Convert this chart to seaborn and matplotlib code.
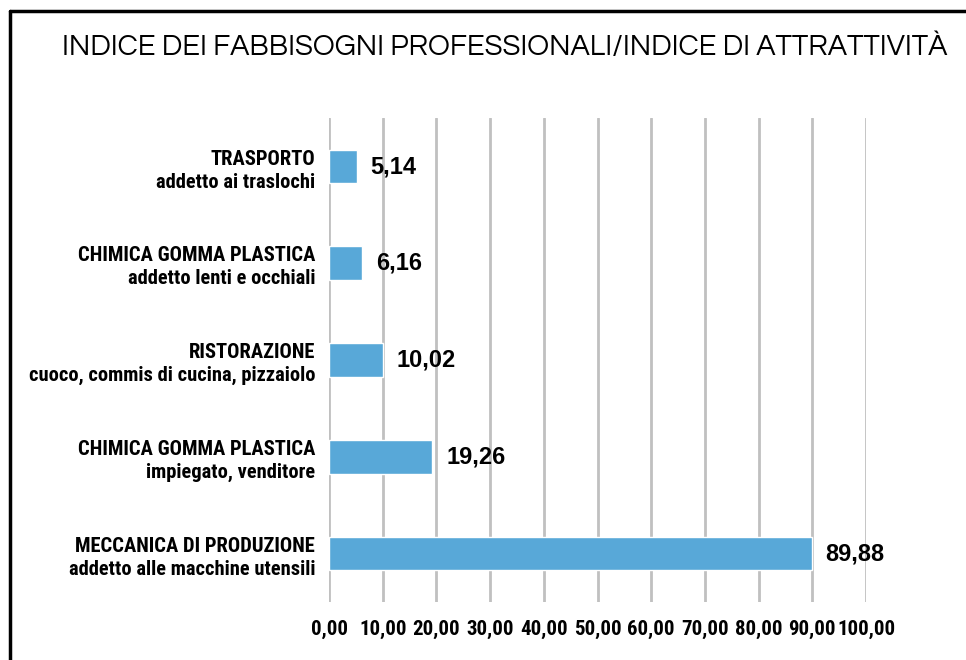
import pandas as pd
import matplotlib.pyplot as plt
import seaborn as sns
from matplotlib.ticker import FuncFormatter, MultipleLocator
from matplotlib.lines import Line2D

# Data
settori = ['TRASPORTO', 'CHIMICA GOMMA PLASTICA', 'RISTORAZIONE',
           'CHIMICA GOMMA PLASTICA', 'MECCANICA DI PRODUZIONE']
profili = ['addetto ai traslochi', 'addetto lenti e occhiali',
           'cuoco, commis di cucina, pizzaiolo', 'impiegato, venditore',
           'addetto alle macchine utensili']
valori = [5.14, 6.16, 10.02, 19.26, 89.88]

etichette = [f'{s}\n{p}' for s, p in zip(settori, profili)]
data = pd.DataFrame({'label': etichette, 'valore': valori})

sns.set_style('white')
plt.rcParams['font.family'] = ['Roboto Condensed', 'DejaVu Sans']

fig = plt.figure(figsize=(9.66, 6.6), dpi=100)
ax = fig.add_axes([0.3406, 0.088, 0.5559, 0.733])

sns.barplot(data=data, x='valore', y='label', orient='h', color='#58a8d8',
            saturation=1, width=0.35, ax=ax, zorder=3)

ax.set_xlim(0, 100)
ax.set_ylim(4.5, -0.5)
ax.xaxis.set_major_locator(MultipleLocator(10))
ax.xaxis.set_major_formatter(FuncFormatter(lambda v, p: f'{v:.2f}'.replace('.', ',')))
ax.grid(axis='x', color='#c0c0c0', linewidth=2, zorder=0)
ax.grid(axis='y', visible=False)
for s in ax.spines.values():
    s.set_visible(False)
ax.tick_params(axis='x', length=0, pad=13, labelsize=15, labelcolor='black')
ax.tick_params(axis='y', length=0, pad=10, labelsize=14.8, labelcolor='black')
for t in ax.get_xticklabels() + ax.get_yticklabels():
    t.set_fontweight('bold')
for t in ax.get_yticklabels():
    t.set_multialignment('right')
    t.set_linespacing(1.28)
ax.set_xlabel('')
ax.set_ylabel('')

# Value labels
for i, v in enumerate(valori):
    ax.annotate(f'{v:.2f}'.replace('.', ','), (v, i), xytext=(10, 0),
                textcoords='offset points', va='center', ha='left', color='black',
                fontsize=17, fontweight='bold', family=['Liberation Sans', 'DejaVu Sans'])

fig.text(0.064, 0.928, 'INDICE DEI FABBISOGNI PROFESSIONALI/INDICE DI ATTRATTIVITÀ',
         fontsize=21, family=['Questrial', 'DejaVu Sans'], va='center', ha='left',
         color='black')

# Frame on top and left
fig.add_artist(Line2D([0.0104, 1.0], [0.984, 0.984], transform=fig.transFigure,
                      color='black', linewidth=2.5))
fig.add_artist(Line2D([0.0104, 0.0104], [0.0, 0.984], transform=fig.transFigure,
                      color='black', linewidth=2.5))

plt.savefig('out.png', dpi=100)
